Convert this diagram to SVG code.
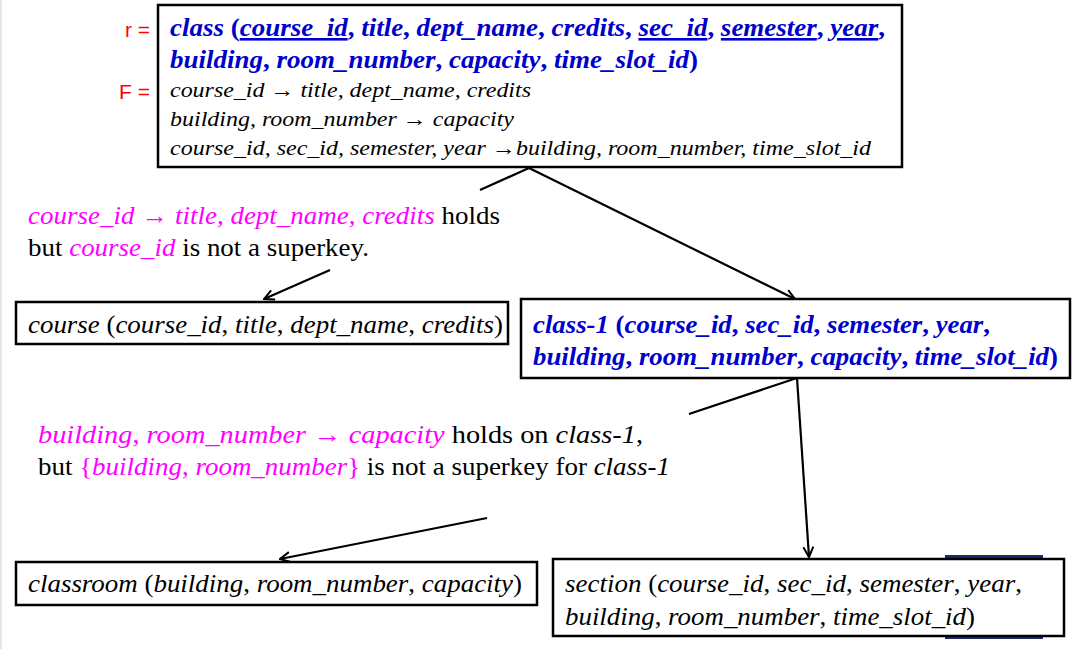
<svg xmlns="http://www.w3.org/2000/svg" width="1073" height="649" viewBox="0 0 1073 649">
<defs>
<style>
.box{fill:#fff;stroke:#000;stroke-width:2.5}
.t{font-family:'Liberation Serif','Times New Roman',Times,serif;font-size:25px;fill:#000}
.sm{font-size:22px}
.bl{fill:#0000cc;font-weight:bold;font-style:italic;font-size:26px}
.i{font-style:italic}
.u{font-style:normal}
.m{fill:#ff00ff}
.ul{text-decoration:underline}
.lab{font-family:'Liberation Sans','DejaVu Sans',sans-serif;font-size:21px;fill:#ff0000}
.c{stroke:#000;stroke-width:2.2;fill:none}
</style>
<marker id="ah" viewBox="0 0 12 12" refX="11" refY="6" markerWidth="12" markerHeight="12" markerUnits="userSpaceOnUse" orient="auto">
<path d="M1,1 L11,6 L1,11" fill="none" stroke="#000" stroke-width="2"/>
</marker>
</defs>
<rect width="1073" height="649" fill="#fff"/>
<line x1="1" y1="0" x2="1" y2="649" stroke="#e6e6e6" stroke-width="2"/>

<g id="connectors">
<line class="c" x1="529" y1="168" x2="480" y2="190"/>
<line class="c" x1="330" y1="270" x2="264" y2="299" marker-end="url(#ah)"/>
<line class="c" x1="529" y1="168" x2="795" y2="299" marker-end="url(#ah)"/>
<line class="c" x1="797" y1="378" x2="689" y2="414"/>
<line class="c" x1="487" y1="518" x2="280" y2="559" marker-end="url(#ah)"/>
<line class="c" x1="797" y1="378" x2="809" y2="557" marker-end="url(#ah)"/>
</g>

<g id="labels-rf">
<text class="lab" x="150" y="37" text-anchor="end">r =</text>
<text class="lab" x="150" y="99" text-anchor="end">F =</text>
</g>

<g id="class">
<rect class="box" x="158" y="5" width="744" height="162"/>
<text class="t bl" x="170" y="36" textLength="715" lengthAdjust="spacingAndGlyphs"><tspan>class </tspan><tspan class="u">(</tspan><tspan class="ul">course_id</tspan><tspan class="u">, </tspan>title<tspan class="u">, </tspan>dept_name<tspan class="u">, </tspan>credits<tspan class="u">, </tspan><tspan class="ul">sec_id</tspan><tspan class="u">, </tspan><tspan class="ul">semester</tspan><tspan class="u">, </tspan><tspan class="ul">year</tspan><tspan class="u">,</tspan></text>
<text class="t bl" x="170" y="68" textLength="528" lengthAdjust="spacingAndGlyphs">building<tspan class="u">, </tspan>room_number<tspan class="u">, </tspan>capacity<tspan class="u">, </tspan>time_slot_id<tspan class="u">)</tspan></text>
<text class="t sm i" x="170" y="97" textLength="361" lengthAdjust="spacingAndGlyphs">course_id → title, dept_name, credits</text>
<text class="t sm i" x="170" y="126" textLength="344" lengthAdjust="spacingAndGlyphs">building, room_number → capacity</text>
<text class="t sm i" x="170" y="155" textLength="701" lengthAdjust="spacingAndGlyphs">course_id, sec_id, semester, year →building, room_number, time_slot_id</text>
</g>

<g id="note1">
<text class="t" x="28" y="224" textLength="472" lengthAdjust="spacingAndGlyphs"><tspan class="m i">course_id → title, dept_name, credits</tspan> holds</text>
<text class="t" x="28" y="256" textLength="341" lengthAdjust="spacingAndGlyphs">but <tspan class="m i">course_id</tspan> is not a superkey.</text>
</g>

<g id="course">
<rect class="box" x="16" y="302" width="492" height="42"/>
<text class="t" x="28" y="333" textLength="475" lengthAdjust="spacingAndGlyphs"><tspan class="i">course</tspan> (<tspan class="i">course_id</tspan>, <tspan class="i">title</tspan>, <tspan class="i">dept_name</tspan>, <tspan class="i">credits</tspan>)</text>
</g>

<g id="class-1">
<rect class="box" x="521" y="299" width="549" height="79"/>
<text class="t bl" x="533" y="333" textLength="457" lengthAdjust="spacingAndGlyphs">class-1 <tspan class="u">(</tspan>course_id<tspan class="u">, </tspan>sec_id<tspan class="u">, </tspan>semester<tspan class="u">, </tspan>year<tspan class="u">,</tspan></text>
<text class="t bl" x="533" y="365" textLength="525" lengthAdjust="spacingAndGlyphs">building<tspan class="u">, </tspan>room_number<tspan class="u">, </tspan>capacity<tspan class="u">, </tspan>time_slot_id<tspan class="u">)</tspan></text>
</g>

<g id="note2">
<text class="t" x="38" y="443" textLength="605" lengthAdjust="spacingAndGlyphs"><tspan class="m i">building</tspan><tspan class="m">, </tspan><tspan class="m i">room_number → capacity</tspan> holds on <tspan class="i">class-1</tspan>,</text>
<text class="t" x="38" y="475" textLength="632" lengthAdjust="spacingAndGlyphs">but <tspan class="m">{</tspan><tspan class="m i">building</tspan><tspan class="m">, </tspan><tspan class="m i">room_number</tspan><tspan class="m">}</tspan> is not a superkey for <tspan class="i">class-1</tspan></text>
</g>

<g id="classroom">
<rect class="box" x="16" y="562" width="521" height="43"/>
<text class="t" x="28" y="592" textLength="494" lengthAdjust="spacingAndGlyphs"><tspan class="i">classroom</tspan> (<tspan class="i">building</tspan>, <tspan class="i">room_number</tspan>, <tspan class="i">capacity</tspan>)</text>
</g>

<g id="section">
<rect x="945" y="555" width="98" height="84" fill="#1a2a6a"/>
<rect class="box" x="553" y="559" width="511" height="77"/>
<text class="t" x="565" y="592" textLength="457" lengthAdjust="spacingAndGlyphs"><tspan class="i">section</tspan> (<tspan class="i">course_id</tspan>, <tspan class="i">sec_id</tspan>, <tspan class="i">semester</tspan>, <tspan class="i">year</tspan>,</text>
<text class="t" x="565" y="625" textLength="410" lengthAdjust="spacingAndGlyphs"><tspan class="i">building</tspan>, <tspan class="i">room_number</tspan>, <tspan class="i">time_slot_id</tspan>)</text>
</g>
</svg>
